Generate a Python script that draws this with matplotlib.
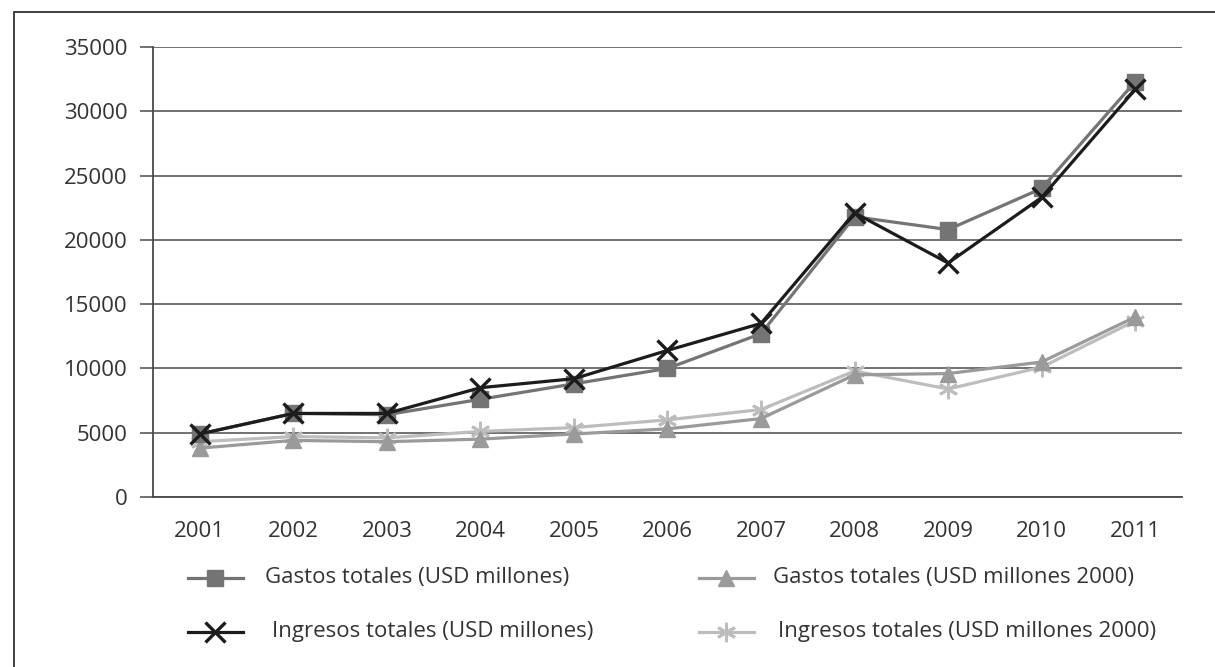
import matplotlib.pyplot as plt
from matplotlib.lines import Line2D
from matplotlib.patches import Rectangle

plt.rcParams['font.family'] = ['Open Sans', 'DejaVu Sans']

years = [2001, 2002, 2003, 2004, 2005, 2006, 2007, 2008, 2009, 2010, 2011]
gastos = [4900, 6500, 6400, 7600, 8800, 10000, 12700, 21800, 20800, 24000, 32300]
gastos_2000 = [3800, 4400, 4300, 4500, 4900, 5300, 6100, 9500, 9600, 10500, 14000]
ingresos = [4900, 6500, 6500, 8500, 9200, 11400, 13500, 22100, 18200, 23300, 31700]
ingresos_2000 = [4300, 4700, 4600, 5100, 5400, 6000, 6800, 9800, 8400, 10100, 13700]

labels = ['Gastos totales (USD millones)', 'Gastos totales (USD millones 2000)',
          'Ingresos totales (USD millones)', 'Ingresos totales (USD millones 2000)']

asterisk = (6, 2, 0)
styles = [
    dict(color='#747474', marker='s', markersize=11, lw=2.3),
    dict(color='#9a9a9a', marker='^', markersize=11, lw=2.3),
    dict(color='#1c1c1c', marker='x', markersize=14, markeredgewidth=2.4, lw=2.3),
    dict(color='#bdbdbd', marker=asterisk, markersize=14, markeredgewidth=2.0, lw=2.3),
]

fig = plt.figure(figsize=(12.15, 6.67), dpi=100)
ax = fig.add_axes([0.1259, 0.2549, 0.8469, 0.6746])

# light series first so the dark ones sit on top
ax.plot(years, ingresos_2000, zorder=3, **styles[3])
ax.plot(years, gastos_2000, zorder=4, **styles[1])
ax.plot(years, gastos, zorder=5, **styles[0])
ax.plot(years, ingresos, zorder=6, **styles[2])

ax.set_xlim(2000.5, 2011.5)
ax.set_ylim(0, 35000)
ax.set_yticks(range(0, 35001, 5000))
ax.set_xticks(years)

ax.grid(axis='y', color='#4a4a4a', lw=1.1)
ax.set_axisbelow(True)
for side in ['top', 'right']:
    ax.spines[side].set_visible(False)
for side in ['left', 'bottom']:
    ax.spines[side].set_color('#4a4a4a')
    ax.spines[side].set_linewidth(1.3)

ax.tick_params(axis='y', length=9.5, width=1.1, color='#4a4a4a', pad=9,
               labelsize=16, labelcolor='#333333')
ax.tick_params(axis='x', length=0, pad=17, labelsize=16, labelcolor='#333333')

# legend drawn by hand in two columns below the axes
W, H = 1215, 667
legend_pos = [(188, 265, 578), (699, 773, 578), (188, 272, 632), (699, 778, 632)]
for st, lab, (hx, tx, y) in zip(styles, labels, legend_pos):
    yf = 1 - y / H
    xs = [hx / W, (hx + 27) / W, (hx + 55) / W]
    fig.add_artist(Line2D(xs, [yf] * 3, transform=fig.transFigure, markevery=[1], **st))
    fig.text(tx / W, yf, lab, fontsize=16, color='#333333', va='center', ha='left')

# outer frame; only its top and left edges fall inside the image
fig.add_artist(Rectangle((14 / W, -0.1), 1.2, 1 - 12 / H + 0.1, transform=fig.transFigure,
                         fill=False, edgecolor='#333333', lw=1.3))

fig.savefig('out.png', dpi=100)
